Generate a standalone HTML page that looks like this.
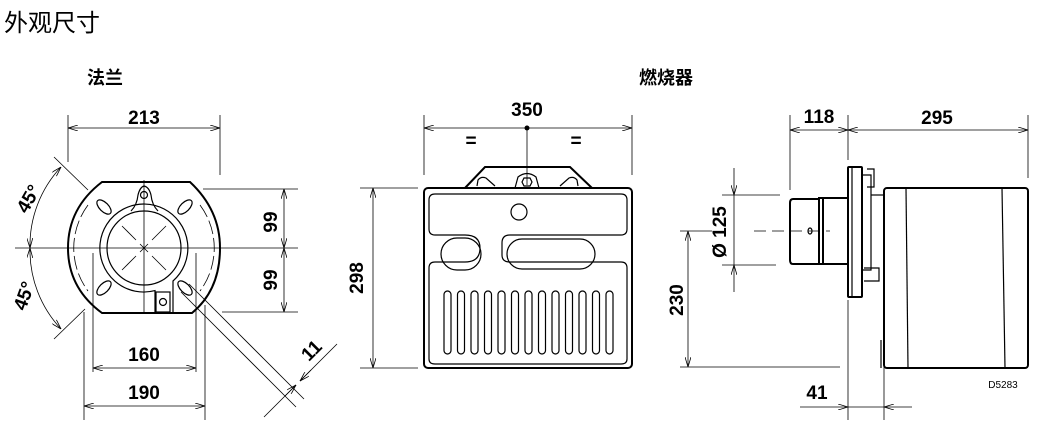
<!DOCTYPE html>
<html><head><meta charset="utf-8"><style>
html,body{margin:0;padding:0;background:#fff;}
svg{display:block;}
text{font-family:"Liberation Sans","Noto Sans CJK SC",sans-serif;}
.t{font-weight:bold;font-size:19px;fill:#000;}
.d{stroke:#000;stroke-width:0.8;fill:none;}
.o{stroke:#000;stroke-width:2;fill:none;}
.m{stroke:#000;stroke-width:1.2;fill:none;}
</style></head><body>
<svg width="1038" height="434" viewBox="0 0 1038 434" xmlns="http://www.w3.org/2000/svg">
<defs>
<marker id="a" viewBox="0 0 10 6" refX="10" refY="3" markerWidth="10" markerHeight="6" orient="auto-start-reverse" markerUnits="userSpaceOnUse"><path d="M0,0L10,3L0,6" fill="none" stroke="#000" stroke-width="0.8"/></marker>
</defs>
<text x="4" y="31" style="font-size:24px;font-family:'Noto Sans CJK SC',sans-serif">外观尺寸</text>
<text x="87" y="84" style="font-size:18px;font-weight:bold;font-family:'Noto Sans CJK SC',sans-serif">法兰</text>
<text x="639" y="84" style="font-size:18px;font-weight:bold;font-family:'Noto Sans CJK SC',sans-serif">燃烧器</text>

<!-- FLANGE -->
<line class="d" x1="68" y1="115" x2="68" y2="162"/>
<line class="d" x1="220" y1="115" x2="220" y2="175"/>
<line class="d" x1="68" y1="128" x2="220" y2="128" marker-start="url(#a)" marker-end="url(#a)"/>
<text class="t" x="144" y="124" text-anchor="middle">213</text>
<path class="o" d="M102,182 L190,182 Q220,210 220,248 Q220,290 192,313 L102,313 Q68,288 68,248 Q68,208 102,182 Z"/>
<path class="m" d="M131,211 Q137,205 138,195 Q140,187 144,186 Q149,187 151,195 Q152,205 158,211"/>
<circle class="m" cx="144" cy="195" r="3.5"/>
<path class="m" d="M155,313 L155,290.6 A44,44 0 1 1 173,281 L173,313"/>
<circle class="m" cx="144" cy="248" r="37"/>
<rect class="m" x="156" y="292" width="14" height="20"/>
<circle class="m" cx="163" cy="302" r="3.5"/>
<path class="d" stroke-dasharray="14,4" d="M88,205 A72,72 0 0 0 88,291 M200,205 A72,72 0 0 1 200,291"/>
<g class="m">
<ellipse cx="104" cy="207" rx="4.5" ry="9" transform="rotate(-45 104 207)"/>
<ellipse cx="185" cy="207" rx="4.5" ry="9" transform="rotate(45 185 207)"/>
<ellipse cx="104" cy="288" rx="4.5" ry="9" transform="rotate(45 104 288)"/>
<ellipse cx="185" cy="288" rx="4.5" ry="9" transform="rotate(-45 185 288)"/>
</g>
<line class="d" x1="15" y1="248" x2="298" y2="248"/>
<line class="d" x1="144" y1="180" x2="144" y2="313"/>
<line class="d" x1="122" y1="226" x2="136" y2="240"/>
<line class="d" x1="152" y1="256" x2="166" y2="270"/>
<line class="d" x1="122" y1="270" x2="136" y2="256"/>
<line class="d" x1="152" y1="240" x2="166" y2="226"/>
<line class="d" x1="140" y1="244" x2="148" y2="252"/>
<line class="d" x1="140" y1="252" x2="148" y2="244"/>
<line class="d" x1="54" y1="157" x2="88" y2="190"/>
<line class="d" x1="54" y1="339" x2="85" y2="309"/>
<path class="d" d="M61,167 A115,115 0 0 0 30,248" marker-start="url(#a)" marker-end="url(#a)"/>
<path class="d" d="M30,248 A115,115 0 0 0 61,329" marker-start="url(#a)" marker-end="url(#a)"/>
<text class="t" x="34" y="202" text-anchor="middle" transform="rotate(-60 34 202)">45°</text>
<text class="t" x="30" y="298" text-anchor="middle" transform="rotate(-70 30 298)">45°</text>
<line class="d" x1="203" y1="189" x2="298" y2="189"/>
<line class="d" x1="222" y1="312" x2="298" y2="312"/>
<line class="d" x1="284" y1="189" x2="284" y2="248" marker-start="url(#a)" marker-end="url(#a)"/>
<line class="d" x1="284" y1="248" x2="284" y2="312" marker-start="url(#a)" marker-end="url(#a)"/>
<text class="t" x="277" y="222" text-anchor="middle" transform="rotate(-90 277 222)">99</text>
<text class="t" x="277" y="280" text-anchor="middle" transform="rotate(-90 277 280)">99</text>
<line class="d" x1="93" y1="253" x2="93" y2="372"/>
<line class="d" x1="196" y1="253" x2="196" y2="372"/>
<line class="d" x1="93" y1="368" x2="196" y2="368" marker-start="url(#a)" marker-end="url(#a)"/>
<text class="t" x="144" y="361" text-anchor="middle">160</text>
<line class="d" x1="84" y1="312" x2="84" y2="420"/>
<line class="d" x1="205" y1="305" x2="205" y2="420"/>
<line class="d" x1="84" y1="406" x2="205" y2="406" marker-start="url(#a)" marker-end="url(#a)"/>
<text class="t" x="144" y="399" text-anchor="middle">190</text>
<line class="d" x1="181" y1="292" x2="296" y2="407"/>
<line class="d" x1="189" y1="284" x2="304" y2="399"/>
<line class="d" x1="264" y1="417" x2="296" y2="385"/>
<line class="d" x1="300" y1="381" x2="337" y2="344"/>
<line class="d" x1="285" y1="396" x2="296" y2="385" marker-end="url(#a)"/>
<line class="d" x1="311" y1="370" x2="300" y2="381" marker-end="url(#a)"/>
<text class="t" x="316" y="355" text-anchor="middle" transform="rotate(-45 316 355)">11</text>

<!-- FRONT -->
<line class="d" x1="424" y1="115" x2="424" y2="175"/>
<line class="d" x1="632" y1="115" x2="632" y2="175"/>
<line class="d" x1="424" y1="128" x2="632" y2="128" marker-start="url(#a)" marker-end="url(#a)"/>
<circle cx="527" cy="128" r="2.5" fill="#000"/>
<line class="d" x1="527" y1="128" x2="527" y2="185"/>
<text class="t" x="527" y="116" text-anchor="middle">350</text>
<text class="t" x="471" y="147" text-anchor="middle">=</text>
<text class="t" x="576" y="147" text-anchor="middle">=</text>
<path class="o" d="M465,188 L485,167 L570,167 L592,188"/>
<path class="m" d="M477,186 L478,180 Q481,176 486,178 L495,186"/>
<path class="m" d="M560,186 L569,178 Q574,176 577,180 L578,186"/>
<path class="m" d="M515,188 L518,177 Q527,170 536,177 L539,188"/>
<polygon class="m" points="524,178 530,178 532,182 530,186 524,186 522,182"/>
<rect class="o" x="424" y="188" width="208" height="180" rx="4"/>
<path class="m" d="M429,200 Q429,194 435,194 L621,194 Q627,194 627,200 L627,229 Q627,235 621,235 L510,235 Q502,235 502,243 L502,255 Q502,262 510,262 L621,262 Q627,262 627,268 L627,359 Q627,364 621,364 L435,364 Q429,364 429,359 L429,268 Q429,262 435,262 L465,262 Q480,262 480,248 Q480,235 465,235 L435,235 Q429,235 429,229 Z"/>
<circle class="m" cx="519" cy="212" r="8"/>
<rect class="m" x="441" y="238" width="40" height="32" rx="16"/>
<rect class="m" x="507" y="239" width="88" height="30" rx="15"/>
<g class="m">
<rect x="444" y="291" width="7" height="63" rx="3.5"/><rect x="457.5" y="291" width="7" height="63" rx="3.5"/><rect x="471" y="291" width="7" height="63" rx="3.5"/><rect x="484.5" y="291" width="7" height="63" rx="3.5"/><rect x="498" y="291" width="7" height="63" rx="3.5"/><rect x="511.5" y="291" width="7" height="63" rx="3.5"/><rect x="525" y="291" width="7" height="63" rx="3.5"/><rect x="538.5" y="291" width="7" height="63" rx="3.5"/><rect x="552" y="291" width="7" height="63" rx="3.5"/><rect x="565.5" y="291" width="7" height="63" rx="3.5"/><rect x="579" y="291" width="7" height="63" rx="3.5"/><rect x="592.5" y="291" width="7" height="63" rx="3.5"/><rect x="606" y="291" width="7" height="63" rx="3.5"/>
</g>
<line class="d" x1="360" y1="188" x2="418" y2="188"/>
<line class="d" x1="360" y1="368" x2="418" y2="368"/>
<line class="d" x1="373" y1="188" x2="373" y2="368" marker-start="url(#a)" marker-end="url(#a)"/>
<text class="t" x="363" y="278" text-anchor="middle" transform="rotate(-90 363 278)">298</text>

<!-- SIDE -->
<line class="d" x1="790" y1="115" x2="790" y2="190"/>
<line class="d" x1="848" y1="115" x2="848" y2="160"/>
<line class="d" x1="848" y1="300" x2="848" y2="420"/>
<line class="d" x1="1028" y1="115" x2="1028" y2="178"/>
<line class="d" x1="790" y1="130" x2="848" y2="130" marker-start="url(#a)" marker-end="url(#a)"/>
<line class="d" x1="848" y1="130" x2="1028" y2="130" marker-start="url(#a)" marker-end="url(#a)"/>
<text class="t" x="819" y="123" text-anchor="middle">118</text>
<text class="t" x="937" y="124" text-anchor="middle">295</text>
<path class="o" d="M793,199 L819,199 L819,198 L848,198 M793,199 Q790,199 790,203 L790,260 Q790,264 793,264 L848,264 M819,199 L819,264 M823,198 L823,264"/>
<rect class="o" x="848" y="167" width="14" height="130" rx="1"/>
<line class="m" x1="852" y1="167" x2="852" y2="297"/>
<path class="m" d="M862,175 L871,175 L871,270 L862,270"/>
<path class="m" d="M867,169 L874,169 L874,187 L867,187"/>
<path class="m" d="M864,268 L879,268 L879,281 L864,281"/>
<rect class="o" x="884" y="188" width="144" height="180" rx="3"/>
<line class="m" x1="906" y1="188" x2="908" y2="368"/>
<line class="m" x1="1002" y1="188" x2="1005" y2="368"/>
<line class="m" x1="871" y1="195" x2="884" y2="195"/>
<line class="m" x1="881" y1="340" x2="881" y2="368"/>
<ellipse class="m" cx="810" cy="231" rx="2" ry="3"/>
<line class="d" stroke-dasharray="12,6" x1="754" y1="231" x2="830" y2="231"/>
<line class="d" x1="722" y1="195" x2="780" y2="195"/>
<line class="d" x1="722" y1="265" x2="776" y2="265"/>
<line class="d" x1="734" y1="168" x2="734" y2="195" marker-end="url(#a)"/>
<line class="d" x1="734" y1="292" x2="734" y2="265" marker-end="url(#a)"/>
<line class="d" x1="734" y1="195" x2="734" y2="265"/>
<text class="t" x="726" y="232" text-anchor="middle" transform="rotate(-90 726 232)">Ø 125</text>
<line class="d" x1="680" y1="231" x2="712" y2="231"/>
<line class="d" x1="680" y1="367" x2="840" y2="367"/>
<line class="d" x1="688" y1="231" x2="688" y2="367" marker-start="url(#a)" marker-end="url(#a)"/>
<text class="t" x="683" y="300" text-anchor="middle" transform="rotate(-90 683 300)">230</text>
<line class="d" x1="884" y1="340" x2="884" y2="420"/>
<line class="d" x1="800" y1="407" x2="848" y2="407" marker-end="url(#a)"/>
<line class="d" x1="912" y1="407" x2="884" y2="407" marker-end="url(#a)"/>
<line class="d" x1="848" y1="407" x2="884" y2="407"/>
<text class="t" x="817" y="399" text-anchor="middle">41</text>
<text x="1003" y="388" text-anchor="middle" style="font-size:10px;fill:#000">D5283</text>
</svg>
</body></html>
